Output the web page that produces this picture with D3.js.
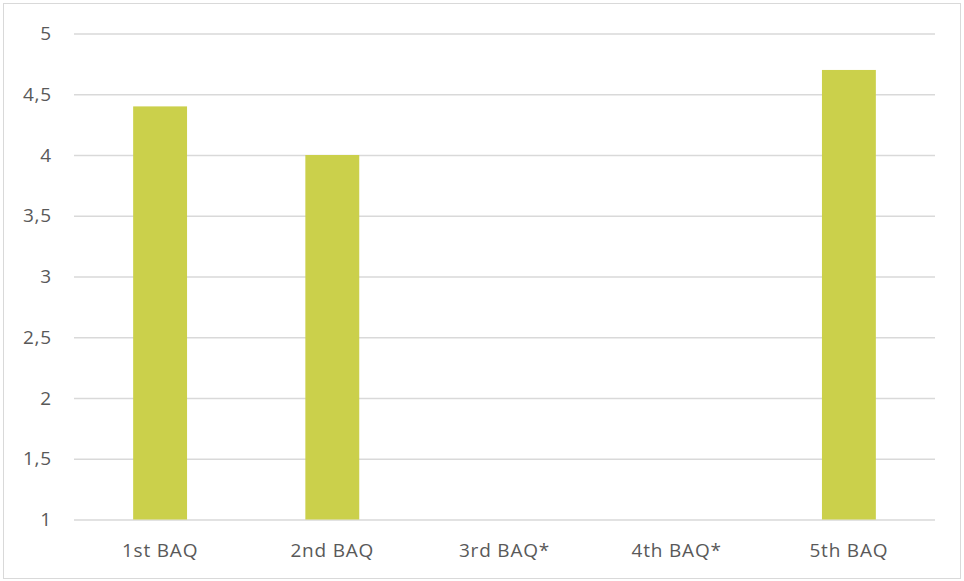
<!DOCTYPE html>
<html>
<head>
<meta charset="utf-8">
<script src="https://cdn.jsdelivr.net/npm/d3@7"></script>
<style>
  html, body { margin: 0; padding: 0; background: #fff; }
  svg { display: block; }
  text { font-family: "Open Sans", sans-serif; fill: #595959; }
</style>
</head>
<body>
<svg id="chart" width="964" height="581"></svg>
<script>
// Survey waves and their mean scores (3rd and 4th waves have no score)
const categories = ["1st BAQ", "2nd BAQ", "3rd BAQ*", "4th BAQ*", "5th BAQ"];
const scores = [4.4, 4.0, null, null, 4.7];
const yTicks = [1, 1.5, 2, 2.5, 3, 3.5, 4, 4.5, 5];

const W = 964, H = 581;
const margin = { left: 74, right: 29, top: 33.5, bottom: 61.5 };
const svg = d3.select("#chart");

// Outer frame
svg.append("rect")
  .attr("x", 3.5).attr("y", 3.5)
  .attr("width", W - 7).attr("height", H - 6)
  .attr("fill", "none").attr("stroke", "#d9d9d9").attr("stroke-width", 1);

const x = d3.scaleBand()
  .domain(categories)
  .range([margin.left, W - margin.right])
  .padding(0);

const y = d3.scaleLinear()
  .domain([1, 5])
  .range([H - margin.bottom, margin.top]);

const fmt = v => String(v).replace(".", ",");
const labelStyle = sel => sel
  .attr("font-size", 19)
  .attr("letter-spacing", 0.8)
  .style("fill", "#595959");

// Horizontal gridlines with value labels
const yAxis = d3.axisLeft(y)
  .tickValues(yTicks)
  .tickFormat(fmt)
  .tickSize(-(W - margin.left - margin.right))
  .tickPadding(22);

const gy = svg.append("g")
  .attr("transform", `translate(${margin.left},0)`)
  .call(yAxis);
gy.select(".domain").remove();
gy.selectAll(".tick line").attr("stroke", "#d9d9d9").attr("stroke-width", 1.6);
gy.selectAll(".tick text").call(labelStyle);

// Bars
const barW = x.bandwidth() * 0.313;
svg.append("g")
  .selectAll("rect")
  .data(categories.map((c, i) => ({ c, v: scores[i] })).filter(d => d.v != null))
  .join("rect")
  .attr("x", d => x(d.c) + x.bandwidth() / 2 - barW / 2)
  .attr("width", barW)
  .attr("y", d => y(d.v))
  .attr("height", d => y(1) - y(d.v))
  .attr("fill", "#cbd04b");

// Category labels
const xAxis = d3.axisBottom(x).tickSize(0).tickPadding(24.5);
const gx = svg.append("g")
  .attr("transform", `translate(0,${y(1)})`)
  .call(xAxis);
gx.select(".domain").remove();
gx.selectAll(".tick text").call(labelStyle);
</script>
</body>
</html>
